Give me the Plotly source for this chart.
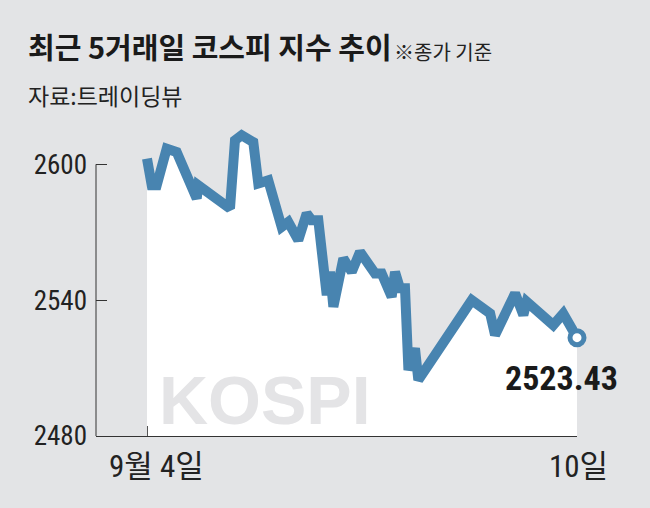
import plotly.graph_objects as go

# KOSPI intraday path over 5 trading days (9/4 ~ 9/10)
# t = trading-day progress (0 = 9월 4일 open, 5 = 10일 close)
t = [0, 0.055, 0.113, 0.229, 0.345, 0.578, 0.597, 0.965, 1.023, 1.101,
     1.236, 1.294, 1.41, 1.566, 1.643, 1.759, 1.857, 1.915, 1.992, 2.09,
     2.128, 2.167, 2.283, 2.381, 2.477, 2.651, 2.729, 2.845, 2.884, 2.942,
     3.0, 3.04, 3.116, 3.155, 3.776, 3.99, 4.047, 4.28, 4.376, 4.415,
     4.724, 4.84, 5.0]
kospi = [2602.5, 2590.7, 2590.7, 2606.9, 2605.4, 2584.9, 2590.7, 2580.5, 2610.6, 2612.8,
         2609.8, 2591.5, 2592.9, 2572.3, 2574.5, 2566.5, 2578.3, 2575.3, 2575.3, 2542.2,
         2552.5, 2537.1, 2558.4, 2552.5, 2561.3, 2551.8, 2551.8, 2541.5, 2552.5, 2545.2,
         2545.2, 2509.1, 2518.7, 2504.7, 2540.0, 2534.1, 2524.6, 2543.0, 2533.4, 2539.3,
         2529.0, 2534.1, 2523.43]
y_ticks = [2480, 2540, 2600]
x_ticks = [0, 5]
x_labels = ["9월 4일", "10일"]
last_label = "2523.43"

bg = "#e3e4e6"
blue = "#4884b0"
kr = "Noto Sans CJK KR"
cond = "Roboto Condensed, Noto Sans CJK KR"

W, H = 650, 508
L, R, T, B = 96, 73, 119, 72
pw, ph = W - L - R, H - T - B


def px_x(x):
    # page pixel -> paper x
    return (x - L) / pw


def px_y(y):
    # page pixel -> paper y
    return (H - B - y) / ph


fig = go.Figure()

# white area under the line
fig.add_trace(go.Scatter(x=t, y=kospi, mode="lines", fill="tozeroy",
                         fillcolor="white", line=dict(color=blue, width=10),
                         hoverinfo="skip"))
# close marker
fig.add_trace(go.Scatter(x=[t[-1]], y=[kospi[-1]], mode="markers", cliponaxis=False,
                         marker=dict(size=14, color="white", line=dict(color=blue, width=5))))

fig.update_layout(
    width=W, height=H,
    paper_bgcolor=bg, plot_bgcolor=bg,
    margin=dict(l=L, r=R, t=T, b=B),
    showlegend=False,
    xaxis=dict(range=[-0.593, 5], showgrid=False, zeroline=False,
               showline=True, linecolor="#333333", linewidth=1,
               tickvals=x_ticks, ticks="inside", ticklen=10, tickcolor="#555555",
               showticklabels=False),
    yaxis=dict(range=[2480, 2620], showgrid=False, zeroline=False,
               showline=False,
               tickvals=y_ticks, ticks="inside", ticklen=11, tickcolor="#333333",
               ticklabelstandoff=8,
               tickfont=dict(family=cond, size=27, color="#222222")),
)

# y axis line only spans the tick range (2480 ~ 2600)
fig.add_shape(type="line", xref="paper", yref="y", x0=0, x1=0,
              y0=y_ticks[0], y1=y_ticks[-1], line=dict(color="#333333", width=1))

# watermark
fig.add_annotation(x=px_x(157), y=px_y(440), xref="paper", yref="paper", text="<b>KOSPI</b>",
                   showarrow=False, xanchor="left", yanchor="bottom",
                   font=dict(family="Liberation Sans, Arial", size=68, color="#e4e4e6"))

# x labels
fig.add_annotation(x=x_ticks[0], y=px_y(446), xref="x", yref="paper", text=x_labels[0],
                   showarrow=False, xanchor="center", yanchor="top", xshift=9,
                   font=dict(family=cond, size=31, color="#222222"))
fig.add_annotation(x=x_ticks[1], y=px_y(446), xref="x", yref="paper", text=x_labels[1],
                   showarrow=False, xanchor="center", yanchor="top", xshift=1,
                   font=dict(family=cond, size=31, color="#222222"))

# last value label
fig.add_annotation(x=px_x(620), y=px_y(356), xref="paper", yref="paper",
                   text="<b>" + last_label + "</b>",
                   showarrow=False, xanchor="right", yanchor="top",
                   font=dict(family=cond, size=34, color="#1a1a1a"))

# title, note and source
fig.add_annotation(x=px_x(26), y=px_y(46), xref="paper", yref="paper",
                   text="<b>최근 5거래일 코스피 지수 추이</b>", showarrow=False,
                   xanchor="left", yanchor="middle",
                   font=dict(family=kr, size=29, color="#1a1a1a"))
fig.add_annotation(x=px_x(392), y=px_y(51), xref="paper", yref="paper",
                   text="※종가 기준", showarrow=False,
                   xanchor="left", yanchor="middle",
                   font=dict(family=kr, size=20, color="#222222"))
fig.add_annotation(x=px_x(26), y=px_y(95), xref="paper", yref="paper",
                   text="자료:트레이딩뷰", showarrow=False,
                   xanchor="left", yanchor="middle",
                   font=dict(family=kr, size=23, color="#222222"))

fig.write_html("out.html", config={"displayModeBar": False},
               post_script="document.body.style.margin='0';")
